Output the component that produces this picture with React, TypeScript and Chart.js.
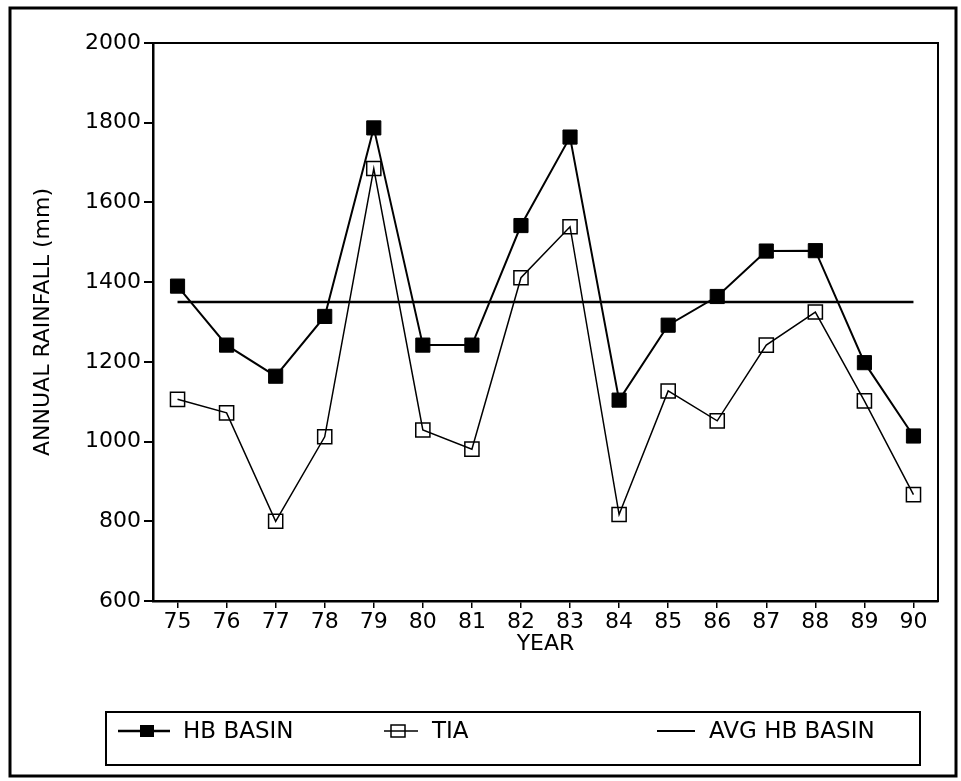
import { useEffect, useRef } from 'react';
import { Chart, registerables } from 'chart.js';

Chart.register(...registerables);

// Annual rainfall, 1975-1990 (mm)
const YEARS = ['75', '76', '77', '78', '79', '80', '81', '82', '83', '84', '85', '86', '87', '88', '89', '90'];
const HB_BASIN = [1390, 1242, 1164, 1314, 1787, 1242, 1242, 1542, 1764, 1104, 1292, 1364, 1478, 1479, 1198, 1014];
const TIA = [1106, 1072, 800, 1012, 1685, 1029, 981, 1411, 1539, 817, 1127, 1052, 1242, 1325, 1102, 867];
const AVG_HB_BASIN = [1350, 1350, 1350, 1350, 1350, 1350, 1350, 1350, 1350, 1350, 1350, 1350, 1350, 1350, 1350, 1350];

const Y_MIN = 600;
const Y_MAX = 2000;
const Y_STEP = 200;

const FONT = 'DejaVu Sans';
const W = 961;
const H = 781;

// Draws the plot frame, the outer page border and the boxed legend.
const framePlugin = {
  id: 'frames',
  beforeDraw(chart: any) {
    const { ctx } = chart;
    ctx.save();
    ctx.fillStyle = '#fff';
    ctx.fillRect(0, 0, chart.width, chart.height);
    ctx.restore();
  },
  afterDraw(chart: any) {
    const { ctx, chartArea: a } = chart;
    const ds = chart.data.datasets;
    ctx.save();
    ctx.strokeStyle = '#000';
    ctx.fillStyle = '#000';

    // plot box
    ctx.lineWidth = 2;
    ctx.strokeRect(a.left, a.top, a.right - a.left, a.bottom - a.top);

    // outer border
    ctx.lineWidth = 3;
    ctx.strokeRect(10, 8, 946, 768);

    // legend box
    ctx.lineWidth = 2;
    ctx.strokeRect(106, 712, 814, 53);

    const y = 731;
    ctx.font = `23px "${FONT}"`;
    ctx.textBaseline = 'middle';
    ctx.textAlign = 'left';

    // HB BASIN: line with filled square
    ctx.lineWidth = 2.5;
    ctx.beginPath();
    ctx.moveTo(118, y);
    ctx.lineTo(170, y);
    ctx.stroke();
    ctx.fillRect(147 - 7, y - 6, 14, 12);
    ctx.fillText(ds[0].label, 183, y + 1);

    // TIA: line with open square
    ctx.lineWidth = 1.5;
    ctx.beginPath();
    ctx.moveTo(384, y);
    ctx.lineTo(418, y);
    ctx.stroke();
    ctx.strokeRect(398 - 7, y - 6, 14, 12);
    ctx.fillText(ds[1].label, 432, y + 1);

    // AVG HB BASIN: plain line
    ctx.lineWidth = 2;
    ctx.beginPath();
    ctx.moveTo(657, y);
    ctx.lineTo(695, y);
    ctx.stroke();
    ctx.fillText(ds[2].label, 709, y + 1);

    ctx.restore();
  },
};

export default function App() {
  const canvasRef = useRef<HTMLCanvasElement | null>(null);

  useEffect(() => {
    const canvas = canvasRef.current;
    if (!canvas) return;

    const chart = new Chart(canvas, {
      type: 'line',
      data: {
        labels: YEARS,
        datasets: [
          {
            label: 'HB BASIN',
            data: HB_BASIN,
            borderColor: '#000',
            backgroundColor: '#000',
            borderWidth: 2,
            pointStyle: 'rect',
            pointRadius: 10,
            pointBorderWidth: 1,
            pointBackgroundColor: '#000',
            pointBorderColor: '#000',
            tension: 0,
          },
          {
            label: 'TIA',
            data: TIA,
            borderColor: '#000',
            backgroundColor: 'rgba(0,0,0,0)',
            borderWidth: 1.5,
            pointStyle: 'rect',
            pointRadius: 10,
            pointBorderWidth: 1.5,
            pointBackgroundColor: 'rgba(0,0,0,0)',
            pointBorderColor: '#000',
            tension: 0,
          },
          {
            label: 'AVG HB BASIN',
            data: AVG_HB_BASIN,
            borderColor: '#000',
            borderWidth: 2.5,
            pointRadius: 0,
            tension: 0,
          },
        ],
      },
      options: {
        responsive: false,
        animation: false,
        devicePixelRatio: 1,
        events: [],
        layout: { padding: { left: 0, top: 43, right: 23, bottom: 0 } },
        plugins: {
          legend: { display: false },
          tooltip: { enabled: false },
          title: { display: false },
        },
        scales: {
          x: {
            type: 'category',
            offset: true,
            afterFit: (scale: any) => {
              scale.height = 180;
            },
            grid: {
              display: true,
              drawOnChartArea: false,
              drawTicks: true,
              tickLength: 7,
              color: '#000',
              lineWidth: 1.5,
              offset: false,
            },
            border: { display: true, color: '#000', width: 2.5 },
            ticks: {
              color: '#000',
              font: { family: FONT, size: 22 },
              padding: 1,
              maxRotation: 0,
              autoSkip: false,
            },
            title: {
              display: true,
              text: 'YEAR',
              color: '#000',
              font: { family: FONT, size: 22 },
              padding: { top: 0, bottom: 124 },
            },
          },
          y: {
            min: Y_MIN,
            max: Y_MAX,
            afterFit: (scale: any) => {
              scale.width = 153;
            },
            grid: {
              display: true,
              drawOnChartArea: false,
              drawTicks: true,
              tickLength: 9,
              color: '#000',
              lineWidth: 2,
            },
            border: { display: true, color: '#000', width: 2.5 },
            ticks: {
              stepSize: Y_STEP,
              color: '#000',
              font: { family: FONT, size: 22 },
              padding: 3,
              callback: (value: any) => String(value),
            },
            title: {
              display: true,
              text: 'ANNUAL RAINFALL (mm)',
              color: '#000',
              font: { family: FONT, size: 22 },
              padding: { top: 30, bottom: 0 },
            },
          },
        },
      },
      plugins: [framePlugin],
    });

    return () => {
      chart.destroy();
    };
  }, []);

  return (
    <div style={{ position: 'absolute', left: 0, top: 0, width: W, height: H, background: '#fff' }}>
      <canvas ref={canvasRef} width={W} height={H} style={{ display: 'block' }} />
    </div>
  );
}
